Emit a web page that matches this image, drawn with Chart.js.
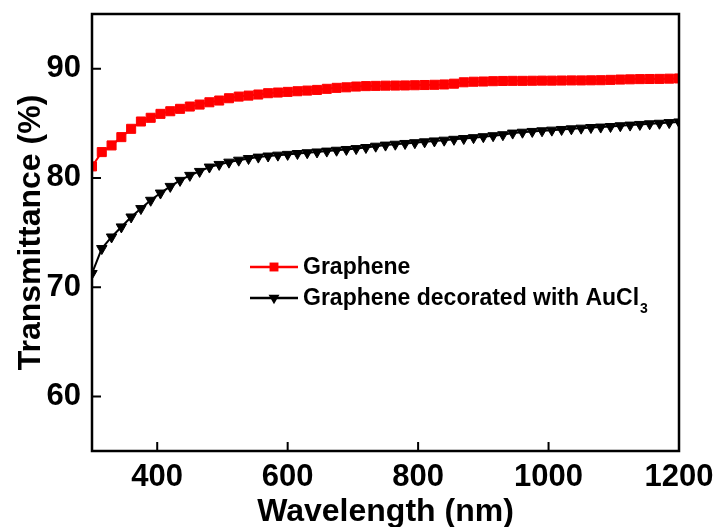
<!DOCTYPE html>
<html>
<head>
<meta charset="utf-8">
<script src="https://cdn.jsdelivr.net/npm/chart.js@4.4.0/dist/chart.umd.min.js"></script>
<style>
  html, body { margin: 0; padding: 0; background: #fff; }
  canvas { display: block; }
</style>
</head>
<body>
<canvas id="TransChart" width="721" height="527"></canvas>
<script>
// wavelength (nm) of each measured point
const wavelengths = [300, 315, 330, 345, 360, 375, 390, 405, 420, 435, 450, 465, 480, 495, 510,
    525, 540, 555, 570, 585, 600, 615, 630, 645, 660, 675, 690, 705, 720, 735,
    750, 765, 780, 795, 810, 825, 840, 855, 870, 885, 900, 915, 930, 945, 960,
    975, 990, 1005, 1020, 1035, 1050, 1065, 1080, 1095, 1110, 1125, 1140, 1155, 1170, 1185, 1200];

// transmittance (%)
const graphene = [81.05, 82.36, 82.97, 83.73, 84.49, 85.16, 85.5, 85.86, 86.1, 86.32, 86.53, 86.71, 86.92, 87.08, 87.29,
    87.44, 87.53, 87.63, 87.75, 87.81, 87.87, 87.93, 87.99, 88.05, 88.15, 88.24, 88.29, 88.36, 88.4,
    88.42, 88.44, 88.45, 88.46, 88.48, 88.5, 88.52, 88.55, 88.62, 88.75, 88.8, 88.82, 88.85, 88.87, 88.88,
    88.88, 88.89, 88.9, 88.9, 88.91, 88.92, 88.92, 88.93, 88.94, 88.97, 89.0, 89.02, 89.04, 89.05, 89.06, 89.08, 89.1];

const grapheneAuCl3 = [71.25, 73.53, 74.59, 75.51, 76.42, 77.19, 77.95, 78.61, 79.22, 79.77, 80.23, 80.59, 80.99, 81.23, 81.44,
    81.62, 81.77, 81.9, 82.0, 82.08, 82.15, 82.23, 82.3, 82.37, 82.45, 82.53, 82.6, 82.68, 82.78, 82.9,
    83.0, 83.08, 83.15, 83.22, 83.3, 83.38, 83.45, 83.53, 83.6, 83.68, 83.77, 83.86, 83.95, 84.1,
    84.18, 84.25, 84.31, 84.37, 84.43, 84.49, 84.55, 84.61, 84.65, 84.7, 84.77, 84.83, 84.89, 84.95, 85.0, 85.06, 85.12];

const xTicks = [400, 600, 800, 1000, 1200];
const yTicks = [60, 70, 80, 90];

// legend text, with the subscript kept apart
const legendNames = ['Graphene', 'Graphene decorated with AuCl'];
const legendSubs = ['', '3'];

const FAMILY = 'Arial, "Liberation Sans", sans-serif';

const toPoints = (ys) => wavelengths.map((w, i) => ({ x: w, y: ys[i] }));

function drawMarker(ctx, style, x, y, r) {
    ctx.beginPath();
    if (style === 'rect') {
        const s = r * Math.SQRT1_2;
        ctx.rect(x - s, y - s, 2 * s, 2 * s);
    } else {
        // triangle pointing down
        const h = r * Math.sqrt(3) / 2;
        ctx.moveTo(x, y + r);
        ctx.lineTo(x - h, y - r / 2);
        ctx.lineTo(x + h, y - r / 2);
        ctx.closePath();
    }
    ctx.fill();
}

// box round the plot plus inward ticks
const framePlugin = {
    id: 'frame',
    afterDatasetsDraw(chart) {
        const { ctx, chartArea: a, scales: { x, y } } = chart;
        ctx.save();
        ctx.strokeStyle = '#000';
        ctx.lineWidth = 2;
        ctx.beginPath();
        xTicks.forEach(v => {
            const px = x.getPixelForValue(v);
            if (px < a.right - 2) {
                ctx.moveTo(px, a.bottom);
                ctx.lineTo(px, a.bottom - 9);
            }
        });
        yTicks.forEach(v => {
            const py = y.getPixelForValue(v);
            ctx.moveTo(a.left, py);
            ctx.lineTo(a.left + 9, py);
        });
        ctx.stroke();
        ctx.lineWidth = 2.5;
        ctx.strokeRect(a.left, a.top, a.right - a.left, a.bottom - a.top);
        ctx.restore();
    }
};

const legendPlugin = {
    id: 'innerLegend',
    afterDraw(chart) {
        const ctx = chart.ctx;
        ctx.save();
        chart.data.datasets.forEach((ds, i) => {
            const rowY = 267 + i * 31;
            ctx.strokeStyle = ds.borderColor;
            ctx.fillStyle = ds.borderColor;
            ctx.lineWidth = 2.5;
            ctx.beginPath();
            ctx.moveTo(250, rowY);
            ctx.lineTo(298, rowY);
            ctx.stroke();
            drawMarker(ctx, ds.pointStyle, 274, rowY, 6.3);

            ctx.fillStyle = '#000';
            ctx.textBaseline = 'alphabetic';
            ctx.textAlign = 'left';
            ctx.font = 'bold 23px ' + FAMILY;
            ctx.fillText(legendNames[i], 303, rowY + 7);
            if (legendSubs[i]) {
                const w = ctx.measureText(legendNames[i]).width;
                ctx.font = 'bold 14px ' + FAMILY;
                ctx.fillText(legendSubs[i], 303 + w + 1, rowY + 15);
            }
        });
        ctx.restore();
    }
};

const tickFont = { family: FAMILY, size: 31, weight: 'bold' };
const titleFont = { family: FAMILY, size: 32, weight: 'bold', lineHeight: 1 };

new Chart(document.getElementById('TransChart').getContext('2d'), {
    type: 'line',
    data: {
        datasets: [{
            label: 'Graphene',
            data: toPoints(graphene),
            borderColor: '#ff0000',
            backgroundColor: '#ff0000',
            borderWidth: 2,
            pointStyle: 'rect',
            pointRadius: 6.4,
            pointBorderWidth: 1,
            pointBorderColor: '#ff0000',
            pointBackgroundColor: '#ff0000'
        }, {
            label: 'Graphene decorated with AuCl₃',
            data: toPoints(grapheneAuCl3),
            borderColor: '#000000',
            backgroundColor: '#000000',
            borderWidth: 2,
            pointStyle: 'triangle',
            pointRotation: 180,
            pointRadius: 6,
            pointBorderWidth: 1,
            pointBorderColor: '#000000',
            pointBackgroundColor: '#000000'
        }]
    },
    options: {
        responsive: false,
        animation: false,
        layout: { padding: { top: 14, right: 42, left: 0, bottom: 0 } },
        plugins: {
            legend: { display: false },
            tooltip: { enabled: false }
        },
        scales: {
            x: {
                type: 'linear',
                min: 300,
                max: 1200,
                afterBuildTicks: s => { s.ticks = xTicks.map(v => ({ value: v })); },
                afterFit: s => { s.height = 76; s.paddingLeft = 0; s.paddingRight = 0; },
                grid: { display: false, drawTicks: false },
                border: { display: false },
                ticks: { font: tickFont, color: '#000', padding: 8, maxRotation: 0, autoSkip: false, callback: v => String(v) },
                title: { display: true, text: 'Wavelength (nm)', font: titleFont, color: '#000', padding: { top: 0, bottom: -1 } }
            },
            y: {
                min: 55,
                max: 95,
                afterBuildTicks: s => { s.ticks = yTicks.map(v => ({ value: v })); },
                afterFit: s => { s.width = 92; s.paddingTop = 0; s.paddingBottom = 0; },
                grid: { display: false, drawTicks: false },
                border: { display: false },
                ticks: { font: tickFont, color: '#000', padding: 11, callback: v => String(v) },
                title: { display: true, text: 'Transmittance (%)', font: titleFont, color: '#000', padding: { top: 15, bottom: 0 } }
            }
        }
    },
    plugins: [framePlugin, legendPlugin]
});
</script>
</body>
</html>
